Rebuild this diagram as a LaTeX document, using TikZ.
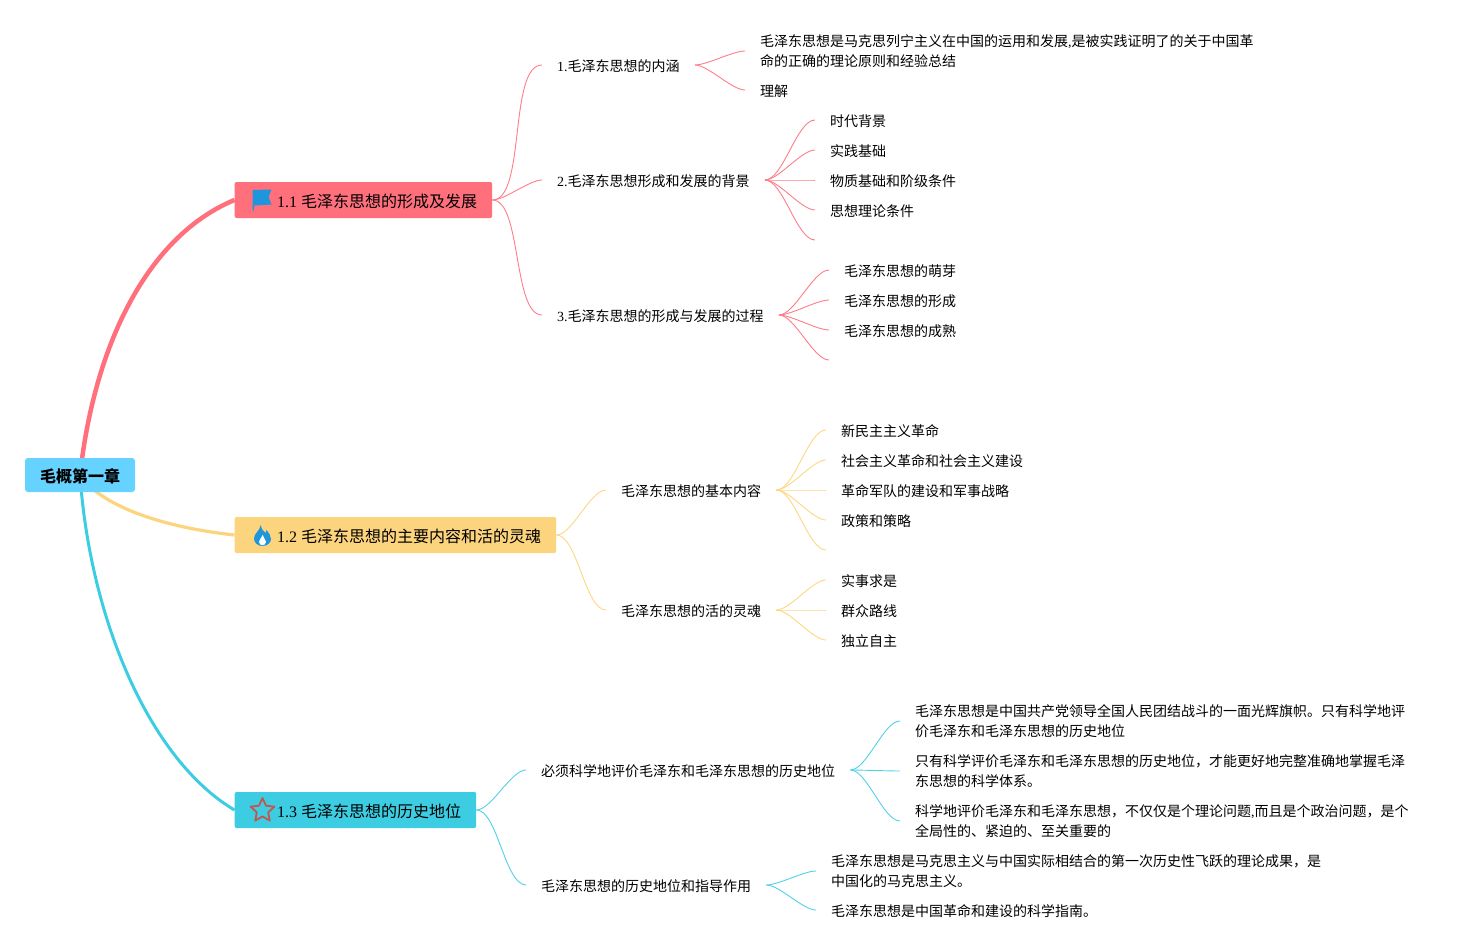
\documentclass[tikz,border=0pt]{standalone}
\usepackage{fontspec}
\setmainfont{Noto Sans CJK SC}
\newfontfamily\latfont{Liberation Serif}
\newcommand{\lat}[1]{{\latfont #1}}
\usetikzlibrary{backgrounds, shapes.geometric}

\definecolor{rootblue}{HTML}{66D2FF}
\definecolor{topicred}{HTML}{FF6F7C}
\definecolor{topicyellow}{HTML}{FDD47E}
\definecolor{topiccyan}{HTML}{3DCDE3}
\definecolor{iconblue}{HTML}{1E96DC}
\definecolor{starred}{HTML}{C0584F}

\begin{document}
\begin{tikzpicture}[
    x=1pt, y=-1pt,
    root/.style={rectangle, fill=rootblue, rounded corners=3pt, minimum width=110pt, minimum height=34pt, inner sep=0pt, font=\fontsize{16}{20}\selectfont\bfseries, execute at begin node={\rule{0pt}{16pt}}},
    topic/.style={rectangle, rounded corners=2pt, minimum height=36pt, inner ysep=0pt, inner xsep=15pt, anchor=west, font=\fontsize{16}{20}\selectfont, execute at begin node={\rule{0pt}{16pt}}},
    sub/.style={inner xsep=15pt, inner ysep=2pt, anchor=west, font=\fontsize{14}{20}\selectfont, execute at begin node={\rule{0pt}{13.3pt}}},
    leaf/.style={sub, align=left},
    link/.style={out=0, in=180, looseness=0.6, line width=0.9pt},
    trunkred/.style={topicred, line width=4.5pt},
    trunkyellow/.style={topicyellow, line width=3.2pt},
    trunkcyan/.style={topiccyan, line width=3pt},
    linkred/.style={link, topicred!90},
    linkyellow/.style={link, topicyellow!95},
    linkcyan/.style={link, topiccyan!90}
]

\useasboundingbox (0,0) rectangle (1475,950);

% central topic and main topics
\node[root] (root) at (80,475) {毛概第一章};
\node[topic, fill=topicred] (formation) at (234.5,200) {\hspace{27.5pt}\lat{1.1 }毛泽东思想的形成及发展\hspace{0.5pt}};
\node[topic, fill=topicyellow] (content) at (234.5,535) {\hspace{27.5pt}\lat{1.2 }毛泽东思想的主要内容和活的灵魂\hspace{0.5pt}};
\node[topic, fill=topiccyan] (status) at (234.5,810) {\hspace{27.5pt}\lat{1.3 }毛泽东思想的历史地位\hspace{0.5pt}};

% icons
\fill[iconblue] (252.5,190) -- (271.5,189.5) -- (268.5,197) -- (271.5,204.5) -- (254.5,205.5) -- (253.5,211) -- (252.5,211) -- cycle;
\fill[iconblue] (260.7,525) .. controls (262,531) and (264,531) .. (265.5,533) .. controls (266,532) and (266.5,531) .. (266.5,530)
    .. controls (269,533) and (271,536) .. (271,539) .. controls (271,543) and (267,546) .. (262.5,546)
    .. controls (258,546) and (254,543) .. (254,538.5) .. controls (254,533) and (260,531) .. (260.7,525) -- cycle;
\fill[white] (262.8,535) .. controls (263,538) and (266,539.5) .. (266,541.5) .. controls (266,544) and (264.5,545.3) .. (262.5,545.3)
    .. controls (260.5,545.3) and (259,544) .. (259,541.5) .. controls (259,539) and (262,538) .. (262.8,535) -- cycle;
\node[star, star points=5, star point ratio=2.1, draw=starred, line width=1.8pt, line join=round, minimum size=25pt, inner sep=0pt] (staricon) at (262.5,810.5) {};

% subtopics
\node[sub] (meaning) at (542,65) {\lat{1.}毛泽东思想的内涵};
\node[sub] (background) at (542,180) {\lat{2.}毛泽东思想形成和发展的背景};
\node[sub] (process) at (542,315) {\lat{3.}毛泽东思想的形成与发展的过程};
\node[sub] (basics) at (606,490) {毛泽东思想的基本内容};
\node[sub] (soul) at (606,610) {毛泽东思想的活的灵魂};
\node[sub] (evaluate) at (526,770) {必须科学地评价毛泽东和毛泽东思想的历史地位};
\node[sub] (guide) at (526,885) {毛泽东思想的历史地位和指导作用};

% leaves
\node[leaf] (def) at (745,51) {毛泽东思想是马克思列宁主义在中国的运用和发展\lat{,}是被实践证明了的关于中国革\\命的正确的理论原则和经验总结};
\node[leaf] (grasp) at (745,90) {理解};
\node[leaf] (era) at (815,120) {时代背景};
\node[leaf] (practice) at (815,150) {实践基础};
\node[leaf] (material) at (815,180) {物质基础和阶级条件};
\node[leaf] (theory) at (815,210) {思想理论条件};
\coordinate (bgend) at (815,240);
\node[leaf] (sprout) at (829,270) {毛泽东思想的萌芽};
\node[leaf] (form) at (829,300) {毛泽东思想的形成};
\node[leaf] (mature) at (829,330) {毛泽东思想的成熟};
\coordinate (procend) at (829,360);
\node[leaf] (newdem) at (826,430) {新民主主义革命};
\node[leaf] (socialist) at (826,460) {社会主义革命和社会主义建设};
\node[leaf] (army) at (826,490) {革命军队的建设和军事战略};
\node[leaf] (policy) at (826,520) {政策和策略};
\coordinate (basicend) at (826,550);
\node[leaf] (facts) at (826,580) {实事求是};
\node[leaf] (masses) at (826,610) {群众路线};
\node[leaf] (indep) at (826,640) {独立自主};
\node[leaf] (banner) at (900,721) {毛泽东思想是中国共产党领导全国人民团结战斗的一面光辉旗帜。只有科学地评\\价毛泽东和毛泽东思想的历史地位};
\node[leaf] (master) at (900,771) {只有科学评价毛泽东和毛泽东思想的历史地位，才能更好地完整准确地掌握毛泽\\东思想的科学体系。};
\node[leaf] (politics) at (900,821) {科学地评价毛泽东和毛泽东思想，不仅仅是个理论问题\lat{,}而且是个政治问题，是个\\全局性的、紧迫的、至关重要的};
\node[leaf] (leap) at (816,871) {毛泽东思想是马克思主义与中国实际相结合的第一次历史性飞跃的理论成果，是\\中国化的马克思主义。};
\node[leaf] (compass) at (816,910) {毛泽东思想是中国革命和建设的科学指南。};

\begin{scope}[on background layer]
\draw[trunkred] (root.center) .. controls (95,340) and (150,235) .. (formation.west);
\draw[trunkyellow] (root.center) .. controls (100,505) and (160,527) .. (content.west);
\draw[trunkcyan] (root.center) .. controls (90,620) and (150,760) .. (status.west);

\draw[linkred] (formation.east) to (meaning.west);
\draw[linkred] (formation.east) to (background.west);
\draw[linkred] (formation.east) to (process.west);
\draw[linkyellow] (content.east) to (basics.west);
\draw[linkyellow] (content.east) to (soul.west);
\draw[linkcyan] (status.east) to (evaluate.west);
\draw[linkcyan] (status.east) to (guide.west);

\draw[linkred] (meaning.east) to (def.west);
\draw[linkred] (meaning.east) to (grasp.west);
\draw[linkred] (background.east) to (era.west);
\draw[linkred] (background.east) to (practice.west);
\draw[linkred] (background.east) to (material.west);
\draw[linkred] (background.east) to (theory.west);
\draw[linkred] (background.east) to (bgend);
\draw[linkred] (process.east) to (sprout.west);
\draw[linkred] (process.east) to (form.west);
\draw[linkred] (process.east) to (mature.west);
\draw[linkred] (process.east) to (procend);
\draw[linkyellow] (basics.east) to (newdem.west);
\draw[linkyellow] (basics.east) to (socialist.west);
\draw[linkyellow] (basics.east) to (army.west);
\draw[linkyellow] (basics.east) to (policy.west);
\draw[linkyellow] (basics.east) to (basicend);
\draw[linkyellow] (soul.east) to (facts.west);
\draw[linkyellow] (soul.east) to (masses.west);
\draw[linkyellow] (soul.east) to (indep.west);
\draw[linkcyan] (evaluate.east) to (banner.west);
\draw[linkcyan] (evaluate.east) to (master.west);
\draw[linkcyan] (evaluate.east) to (politics.west);
\draw[linkcyan] (guide.east) to (leap.west);
\draw[linkcyan] (guide.east) to (compass.west);
\end{scope}

\end{tikzpicture}
\end{document}
